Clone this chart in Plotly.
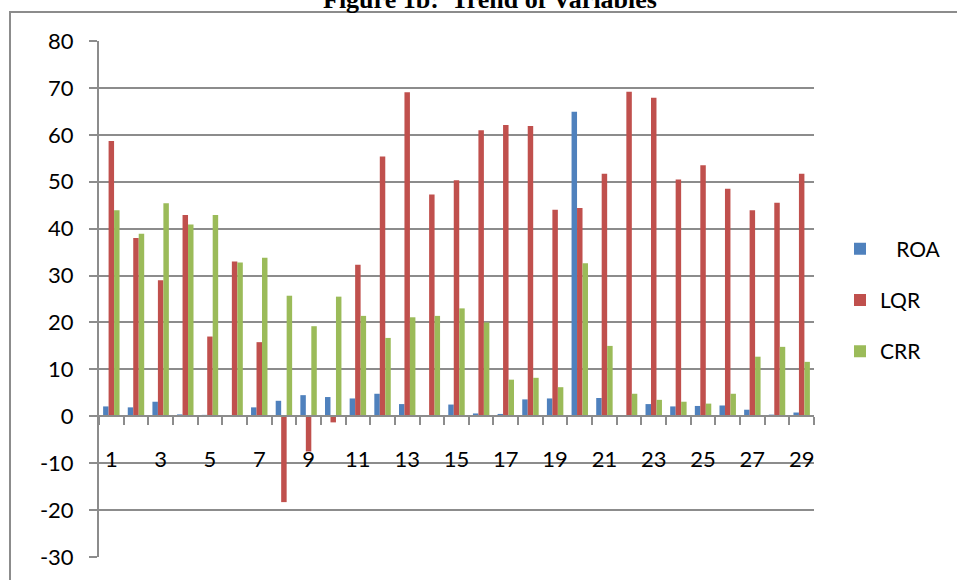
import base64
import plotly.graph_objects as go

# Observation index (1..29)
categories = list(range(1, 30))

roa = [2.1, 1.9, 3.1, 0.4, 0.3, 0.05, 1.9, 3.3, 4.5, 4.1,
       3.8, 4.8, 2.6, 0.0, 2.5, 0.6, 0.5, 3.6, 3.8, 64.9,
       3.9, 0.0, 2.6, 2.1, 2.2, 2.3, 1.4, 0.35, 0.8]
lqr = [58.7, 38.0, 29.0, 42.9, 17.0, 33.0, 15.8, -18.3, -7.5, -1.3,
       32.3, 55.4, 69.1, 47.3, 50.3, 61.0, 62.1, 61.9, 44.0, 44.4,
       51.7, 69.2, 67.9, 50.5, 53.5, 48.5, 43.9, 45.5, 51.7]
crr = [43.9, 38.9, 45.4, 40.9, 42.9, 32.8, 33.8, 25.7, 19.2, 25.5,
       21.4, 16.7, 21.1, 21.4, 23.0, 20.0, 7.8, 8.2, 6.2, 32.6,
       15.0, 4.8, 3.5, 3.1, 2.7, 4.8, 12.7, 14.8, 11.6]

label_vals = [c for c in categories if c % 2 == 1]
label_text = [str(c) for c in label_vals]
boundaries = [c + 0.5 for c in range(0, 30)]

y_min, y_max = -30, 80
y_ticks = list(range(y_min, y_max + 1, 10))
y_labels = [str(v) for v in y_ticks]  # plain hyphen for negatives

grid = "#8c8c8c"
font_family = "Lato, 'Open Sans', sans-serif"

W, H = 957, 580
# plot area spans x 99..814, y 41..557 on the page
ML, MR, MT, MB = 99, 143, 41, 23
pw, ph = W - ML - MR, H - MT - MB

fig = go.Figure()
series = [
    ("\u00a0\u00a0\u00a0ROA", roa, "#4F81BD"),
    ("LQR", lqr, "#C0504D"),
    ("CRR", crr, "#9BBB59"),
]
for name, vals, color in series:
    fig.add_trace(go.Bar(
        x=categories, y=vals, name=name, legendgroup=name,
        marker=dict(color=color, line=dict(width=0)),
    ))

# chart-area border drawn as a page-sized vector image: left edge at x=10,
# top edge at y=12, right and bottom edges off the page
border_svg = (
    f'<svg xmlns="http://www.w3.org/2000/svg" width="{W}" height="{H}" '
    f'viewBox="0 0 {W} {H}">'
    f'<path d="M10 {H + 10} L10 12 L{W + 10} 12" fill="none" '
    f'stroke="{grid}" stroke-width="2"/></svg>'
)
border_uri = "data:image/svg+xml;base64," + base64.b64encode(border_svg.encode()).decode()

fig.update_layout(
    width=W, height=H,
    margin=dict(l=ML, r=MR, t=MT, b=MB, autoexpand=False),
    paper_bgcolor="white", plot_bgcolor="white",
    barmode="group", bargap=1.5 / 4.5, bargroupgap=0,
    font=dict(family=font_family, size=21, color="black"),
    showlegend=True,
    legend=dict(
        xref="container", yref="container",
        x=840 / W, y=1 - 300 / H, xanchor="left", yanchor="middle",
        font=dict(size=21), tracegroupgap=21,
        bgcolor="rgba(0,0,0,0)",
    ),
    xaxis=dict(
        range=[0.5, 29.5], anchor="free",
        position=(0 - y_min) / (y_max - y_min),
        showgrid=False, zeroline=False,
        showline=True, linecolor=grid, linewidth=2,
        tickmode="array", tickvals=label_vals, ticktext=label_text,
        ticks="", ticklabelstandoff=23,
        tickfont=dict(size=22),
        minor=dict(tickmode="array", tickvals=boundaries, ticks="outside",
                   ticklen=8, tickcolor=grid, tickwidth=2),
    ),
    yaxis=dict(
        range=[y_min, y_max],
        tickmode="array", tickvals=y_ticks, ticktext=y_labels,
        showgrid=True, gridcolor=grid, gridwidth=2,
        zeroline=False,
        showline=True, linecolor=grid, linewidth=2,
        ticks="outside", ticklen=8, tickcolor=grid, tickwidth=2,
        ticklabelstandoff=11,
        tickfont=dict(size=22),
    ),
    images=[dict(
        source=border_uri, xref="paper", yref="paper",
        x=-ML / pw, y=1 + MT / ph, sizex=W / pw, sizey=H / ph,
        xanchor="left", yanchor="top", sizing="stretch", layer="above",
    )],
)

fig.add_annotation(
    text="<b>Figure 1b:  Trend of Variables</b>",
    xref="paper", yref="paper", x=(490 - ML) / pw, y=(H - MB - 16) / ph,
    xanchor="center", yanchor="bottom", showarrow=False,
    font=dict(family="'Liberation Serif', 'Times New Roman', serif", size=26, color="black"),
)

fig.write_html("out.html")
